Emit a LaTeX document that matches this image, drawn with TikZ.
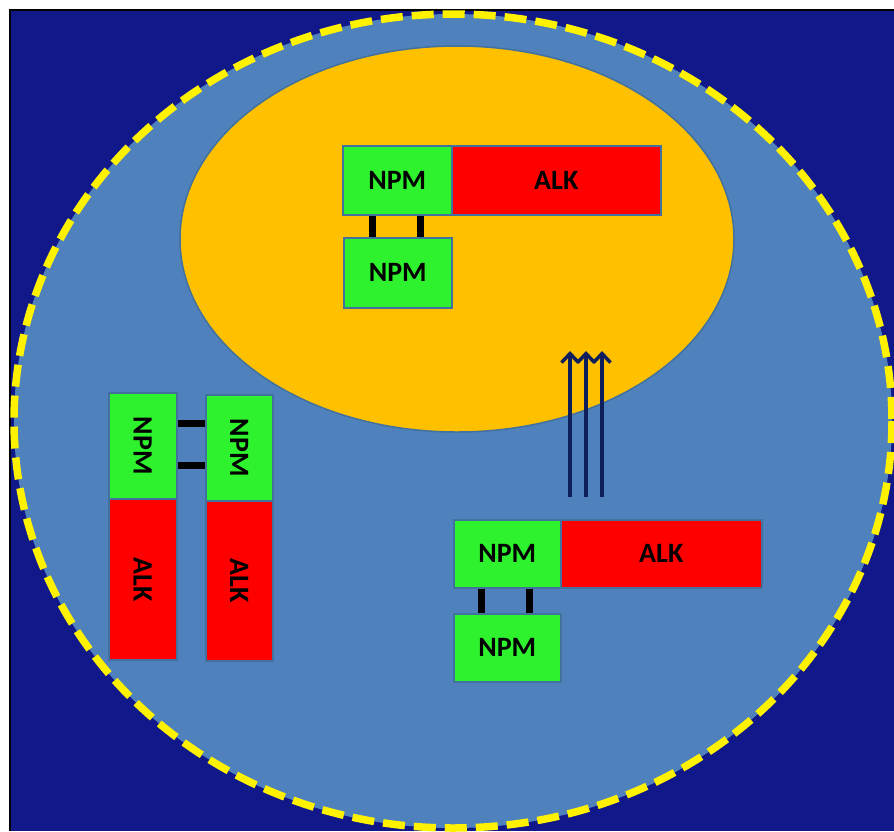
\documentclass[tikz,border=0pt]{standalone}
\usepackage{fontspec}
\setmainfont{Carlito}
\usetikzlibrary{arrows.meta}
\definecolor{bgblue}{HTML}{10188A}
\definecolor{cellblue}{HTML}{4F81BD}
\definecolor{nucorange}{HTML}{FFC000}
\definecolor{npmgreen}{HTML}{2EF22E}
\definecolor{alkred}{HTML}{FF0000}
\definecolor{edgeblue}{HTML}{41719C}
\definecolor{arrownavy}{HTML}{0F1F5C}
\tikzset{
  protbox/.style={draw=edgeblue, line width=1.5pt, inner sep=0pt, font=\bfseries\fontsize{28}{28}\selectfont, text=black},
  npmbox/.style={protbox, fill=npmgreen},
  alkbox/.style={protbox, fill=alkred},
  vlabel/.style={rotate=-90, font=\bfseries\fontsize{28}{28}\selectfont, text=black},
  bar/.style={line width=7pt, black},
  flow/.style={line width=3.5pt, arrownavy, -{Straight Barb[length=9pt,width=17pt]}}
}
\begin{document}
\begin{tikzpicture}[x=1pt,y=-1pt]
\useasboundingbox (0,0) rectangle (894,831);
\fill[white] (0,0) rectangle (894,831);
\fill[bgblue] (10,10) rectangle (894,831);
\draw[black, line width=2pt] (10,831) -- (10,10) -- (894,10);
% cell
\fill[cellblue] (453,421) ellipse [x radius=439, y radius=407];
\draw[yellow, line width=7.5pt, dash pattern=on 22pt off 9pt] (453,421) ellipse [x radius=439, y radius=407];
% nucleus
\draw[fill=nucorange, draw=edgeblue, line width=1.5pt] (457,239) ellipse [x radius=277, y radius=193];
% nuclear fusion dimer
\node[npmbox, minimum width=109pt, minimum height=69pt, anchor=north west] (n1) at (342,145) {NPM};
\node[alkbox, minimum width=209pt, minimum height=69pt, anchor=north west] (a1) at (451,145) {ALK};
\node[npmbox, minimum width=108pt, minimum height=70pt, anchor=north west] (n2) at (343,237) {NPM};
\draw[bar] ([xshift=-24.5pt]n1.south) -- ([xshift=-25pt]n2.north);
\draw[bar] ([xshift=23.5pt]n1.south) -- ([xshift=23pt]n2.north);
% left vertical dimer
\node[npmbox, minimum width=68pt, minimum height=106pt, anchor=north west] (ln1) at (108,392) {};
\node[vlabel] (ln1t) at (ln1.center) {NPM};
\node[alkbox, minimum width=68pt, minimum height=161pt, anchor=north west] (la1) at (108,498) {};
\node[vlabel] (la1t) at (la1.center) {ALK};
\node[npmbox, minimum width=67pt, minimum height=106pt, anchor=north west] (ln2) at (205,394) {};
\node[vlabel] (ln2t) at (ln2.center) {NPM};
\node[alkbox, minimum width=67pt, minimum height=160pt, anchor=north west] (la2) at (205,500) {};
\node[vlabel] (la2t) at (la2.center) {ALK};
\draw[bar] ([yshift=22pt]ln1.east) -- ([yshift=24pt]ln2.west);
\draw[bar] ([yshift=-20pt]ln1.east) -- ([yshift=-18pt]ln2.west);
% cytoplasmic fusion dimer
\node[npmbox, minimum width=107pt, minimum height=68pt, anchor=north west] (n3) at (453,519) {NPM};
\node[alkbox, minimum width=201pt, minimum height=68pt, anchor=north west] (a3) at (560,519) {ALK};
\node[npmbox, minimum width=107pt, minimum height=68pt, anchor=north west] (n4) at (453,613) {NPM};
\draw[bar] ([xshift=-25.5pt]n3.south) -- ([xshift=-25.5pt]n4.north);
\draw[bar] ([xshift=22.5pt]n3.south) -- ([xshift=22.5pt]n4.north);
% translocation arrows
\coordinate (s1) at (570,497); \coordinate (e1) at (570,351);
\coordinate (s2) at (586,497); \coordinate (e2) at (586,351);
\coordinate (s3) at (602,497); \coordinate (e3) at (602,351);
\draw[flow] (s1) -- (e1);
\draw[flow] (s2) -- (e2);
\draw[flow] (s3) -- (e3);
\end{tikzpicture}
\end{document}
